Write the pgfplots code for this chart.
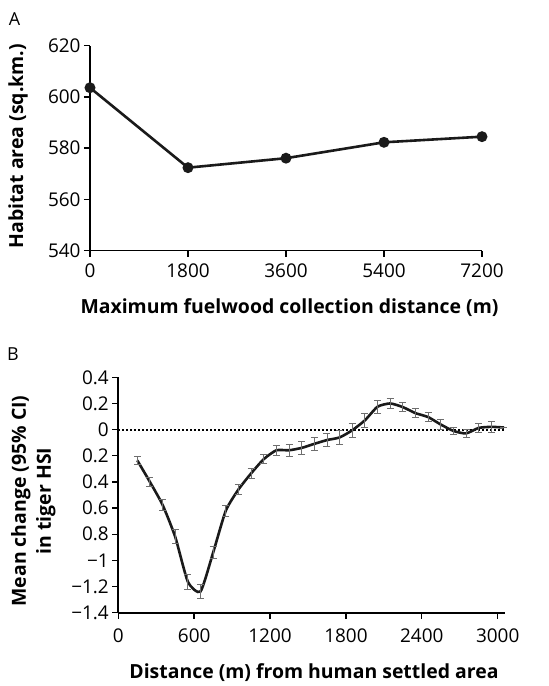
\documentclass[border=0pt]{standalone}
\usepackage{fontspec}
\setmainfont{Open Sans}
\usepackage{pgfplots}
\usepackage{pgfplotstable}
\pgfplotsset{compat=1.18}

\definecolor{lineblk}{HTML}{1A1A1A}
\definecolor{errgray}{HTML}{6E6E6E}

% panel A: habitat area vs max fuelwood distance
\pgfplotstableread{
x y
0 603.6
1800 572.4
3600 576.1
5400 582.3
7200 584.5
}\habitat

% panel B: mean change in HSI, with 95% CI half-widths
\pgfplotstableread{
x y e
150 -0.235 0.028
250 -0.40 0.035
350 -0.575 0.044
450 -0.82 0.053
550 -1.163 0.057
650 -1.238 0.053
750 -0.94 0.048
850 -0.62 0.042
950 -0.458 0.040
1050 -0.335 0.035
1150 -0.226 0.036
1250 -0.158 0.039
1350 -0.158 0.044
1450 -0.14 0.047
1550 -0.109 0.048
1650 -0.08 0.05
1750 -0.06 0.05
1850 -0.005 0.055
1950 0.071 0.056
2050 0.175 0.048
2150 0.200 0.036
2250 0.172 0.034
2350 0.126 0.032
2450 0.096 0.036
2550 0.039 0.04
2650 -0.01 0.03
2750 -0.029 0.03
2850 0.013 0.036
2950 0.021 0.04
3050 0.016 0
}\hsi

\pgfplotsset{
  panel/.style={
    scale only axis,
    axis lines=left,
    axis line style={-, line width=1.6bp, black},
    tick align=outside,
    major tick length=6bp,
    tick style={line width=1.4bp, black},
    hide obscured x ticks=false,
    hide obscured y ticks=false,
    ticklabel style={font=\fontsize{19}{22}\selectfont},
    label style={font=\fontsize{19.5}{25}\selectfont\bfseries},
    /pgf/number format/assume math mode=true,
    /pgf/number format/1000 sep={},
    scaled ticks=false,
    clip=false,
  },
}

\begin{document}
\begin{tikzpicture}[x=1bp, y=1bp, font=\fontsize{18}{21}\selectfont]

\begin{axis}[panel,
    at={(90bp,435.3bp)}, anchor=south west,
    width=392bp, height=205bp,
    xmin=0, xmax=7200, ymin=540, ymax=620,
    xtick={0,1800,3600,5400,7200},
    ytick={540,560,580,600,620},
    xticklabel style={yshift=-4bp},
    xlabel={Maximum fuelwood collection distance (m)},
    ylabel={Habitat area (sq.km.)},
    xlabel style={at={(axis description cs:0.509,-0.2795)}, anchor=center},
    ylabel style={at={(axis description cs:-0.1837,0.5098)}, anchor=center},
  ]
  \addplot[lineblk, line width=2.6bp, mark=*, mark size=4.1bp,
    mark options={solid, fill=lineblk, draw=lineblk}] table[x=x, y=y] {\habitat};
\end{axis}

\begin{axis}[panel,
    at={(118.3bp,73.3bp)}, anchor=south west,
    width=386.7bp, height=235.4bp,
    xmin=0, xmax=3058, ymin=-1.4, ymax=0.4,
    xtick={0,600,1200,1800,2400,3000},
    ytick={-1.4,-1.2,-1,-0.8,-0.6,-0.4,-0.2,0,0.2,0.4},
    yticklabels={−1.4,−1.2,−1,0.8,0.6,0.4,0.2,0,0.2,0.4},
    xticklabel style={yshift=-7bp},
    xlabel={Distance (m) from human settled area},
    ylabel={Mean change (95\% CI)\\in tiger HSI},
    xlabel style={at={(axis description cs:0.506,-0.256)}, anchor=center},
    ylabel style={at={(axis description cs:-0.2198,0.4745)}, anchor=center, align=center},
  ]
  \addplot[black, line width=1.9bp, dash pattern=on 1.6bp off 2.4bp] coordinates {(0,0) (3058,0)};
  \addplot[lineblk, line width=2.6bp, smooth, tension=0.35, no marks,
    error bars/.cd, y dir=both, y explicit,
    error bar style={errgray, line width=0.9bp, solid},
    error mark options={rotate=90, errgray, mark size=3.5bp, line width=0.9bp}]
    table[x=x, y=y, y error=e] {\hsi};
\end{axis}

\node at (14.5bp,666.5bp) {A};
\node at (13bp,332bp) {B};

\pgfresetboundingbox
\path (0,0) rectangle (549bp,686bp);
\end{tikzpicture}
\end{document}
